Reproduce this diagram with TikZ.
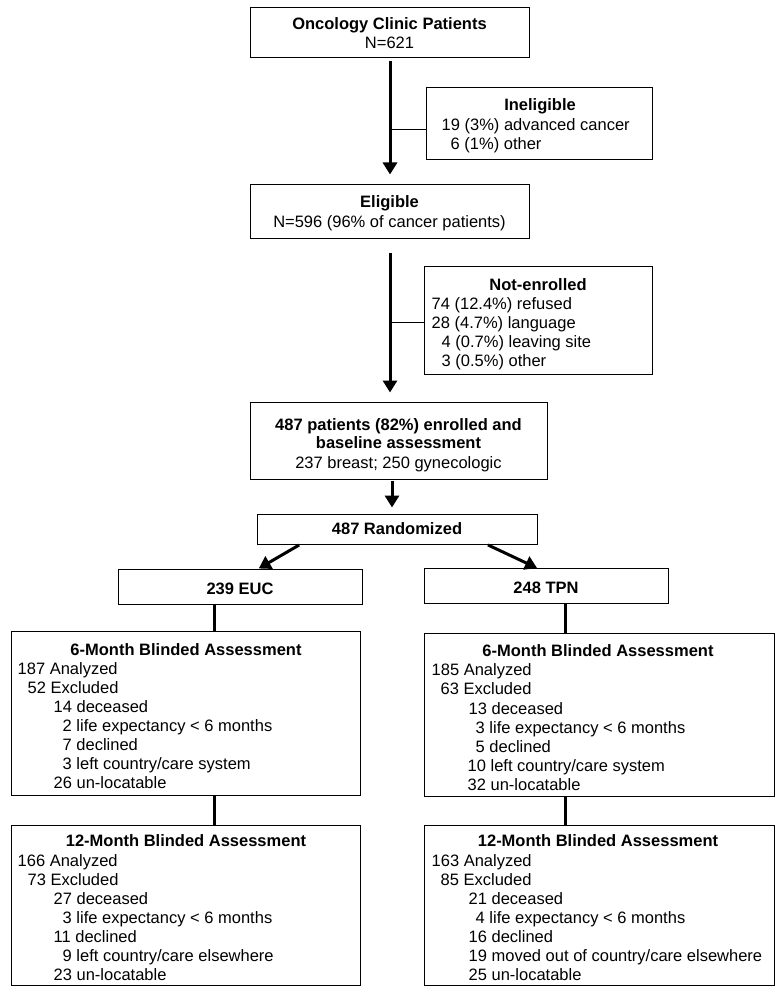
\documentclass[tikz,border=0pt]{standalone}
\usepackage{fontspec}
\setmainfont{Liberation Sans}
\usetikzlibrary{arrows.meta,calc}
\newcommand\fs{\fontsize{16.5}{19}\selectfont}
\begin{document}
\begin{tikzpicture}[x=1pt,y=-1pt,
  box/.style={draw=black,line width=1pt,rectangle,inner sep=0pt,outer sep=0pt,fill=white},
  txt/.style={inner sep=0pt,anchor=base west,font=\fs},
  ctx/.style={inner sep=0pt,anchor=base,font=\fs},
  ttl/.style={inner sep=0pt,anchor=base,font=\fs\bfseries},
  thick line/.style={line width=3pt},
  arr/.style={line width=3pt,-{Triangle[length=12pt,width=14pt]}},
  thin line/.style={line width=1pt}]
\useasboundingbox[fill=white] (0,0) rectangle (783,992);

% boxes
\node[box,minimum width=279pt,minimum height=50pt] (onc) at (390,32.5) {};
\node[box,minimum width=226pt,minimum height=72pt] (inel) at (539.5,123.5) {};
\node[box,minimum width=279pt,minimum height=54pt] (elig) at (390,211.5) {};
\node[box,minimum width=228pt,minimum height=108pt] (noten) at (538.5,320.5) {};
\node[box,minimum width=297pt,minimum height=77pt] (enr) at (399,441) {};
\node[box,minimum width=280pt,minimum height=30pt] (rand) at (397.5,529.5) {};
\node[box,minimum width=244pt,minimum height=35pt] (euc) at (240.5,587) {};
\node[box,minimum width=244pt,minimum height=35pt] (tpn) at (546.5,586) {};
\node[box,minimum width=349pt,minimum height=164pt] (m6l) at (186,713.5) {};
\node[box,minimum width=350pt,minimum height=163pt] (m6r) at (599.5,715) {};
\node[box,minimum width=349pt,minimum height=160pt] (m12l) at (186,905.5) {};
\node[box,minimum width=350pt,minimum height=160pt] (m12r) at (599.5,905.5) {};

% centered texts
\node[ttl] (onc-t) at (389.5,30) {Oncology Clinic Patients};
\node[ctx] (onc-n) at (389.5,49) {N=621};
\node[ttl] (elig-t) at (389.5,208) {Eligible};
\node[ctx] (elig-n) at (389.5,228) {N=596 (96\% of cancer patients)};
\node[ttl] (enr-t1) at (398.5,430) {487 patients (82\%) enrolled and};
\node[ttl] (enr-t2) at (398.5,448.5) {baseline assessment};
\node[ctx] (enr-n) at (398.5,468) {237 breast; 250 gynecologic};
\node[ttl] (rand-t) at (397,534) {487 Randomized};
\node[ttl] (euc-t) at (240,594) {239 EUC};
\node[ttl] (tpn-t) at (546,593) {248 TPN};
\node[ttl] (inel-t) at (540,111) {Ineligible};
\node[ttl] (noten-t) at (538,290) {Not-enrolled};
\node[ttl] (m6l-t) at (186,655) {6-Month Blinded Assessment};
\node[ttl] (m6r-t) at (598,656) {6-Month Blinded Assessment};
\node[ttl] (m12l-t) at (186,846) {12-Month Blinded Assessment};
\node[ttl] (m12r-t) at (598,846) {12-Month Blinded Assessment};

% left-aligned lines
\foreach \dx/\dy/\t [count=\i] in {15/43/{19 (3\%) advanced cancer}, 24/62/{6 (1\%) other}}
  \node[txt] (inel-\i) at ($(inel.north west)+(\dx,\dy)$) {\t};
\foreach \dx/\dy/\t [count=\i] in {7/43/{74 (12.4\%) refused}, 7/62/{28 (4.7\%) language}, 17/81/{4 (0.7\%) leaving site}, 17/100/{3 (0.5\%) other}}
  \node[txt] (noten-\i) at ($(noten.north west)+(\dx,\dy)$) {\t};
\foreach \dx/\dy/\t [count=\i] in {6/43/{187 Analyzed}, 16/62/{52 Excluded}, 42/81/{14 deceased}, 51/100/{2 life expectancy < 6 months}, 51/119/{7 declined}, 51/138/{3 left country/care system}, 42/157/{26 un-locatable}}
  \node[txt] (m6l-\i) at ($(m6l.north west)+(\dx,\dy)$) {\t};
\foreach \dx/\dy/\t [count=\i] in {7/42/{185 Analyzed}, 16/61/{63 Excluded}, 44/80.5/{13 deceased}, 51/99.5/{3 life expectancy < 6 months}, 51/119/{5 declined}, 43/138/{10 left country/care system}, 43/157/{32 un-locatable}}
  \node[txt] (m6r-\i) at ($(m6r.north west)+(\dx,\dy)$) {\t};
\foreach \dx/\dy/\t [count=\i] in {6/41/{166 Analyzed}, 16/60/{73 Excluded}, 42/79/{27 deceased}, 51/98/{3 life expectancy < 6 months}, 42/117/{11 declined}, 51/136/{9 left country/care elsewhere}, 42/155/{23 un-locatable}}
  \node[txt] (m12l-\i) at ($(m12l.north west)+(\dx,\dy)$) {\t};
\foreach \dx/\dy/\t [count=\i] in {7/41/{163 Analyzed}, 16/60/{85 Excluded}, 44/79/{21 deceased}, 51/98/{4 life expectancy < 6 months}, 44/117/{16 declined}, 44/136/{19 moved out of country/care elsewhere}, 44/155/{25 un-locatable}}
  \node[txt] (m12r-\i) at ($(m12r.north west)+(\dx,\dy)$) {\t};

% connectors
\coordinate (j1) at (390,129.5);
\coordinate (j2) at (390,322.5);
\draw[arr,shorten <=4pt,shorten >=10pt] (390,0 |- onc.south) -- (390,0 |- elig.north);
\draw[thin line] (j1) -- (j1 -| inel.west);
\draw[arr,shorten <=14pt,shorten >=10pt] (390,0 |- elig.south) -- (390,0 |- enr.north);
\draw[thin line] (j2) -- (j2 -| noten.west);
\draw[arr,shorten <=1pt,shorten >=7pt] (392,0 |- enr.south) -- (392,0 |- rand.north);
\draw[arr,shorten <=1pt,shorten >=2pt] (300,0 |- rand.south) -- (257,0 |- euc.north);
\draw[arr,shorten <=1pt,shorten >=1pt] (487,0 |- rand.south) -- (538,0 |- tpn.north);
\draw[thick line] (214,0 |- euc.south) -- (214,0 |- m6l.north);
\draw[thick line] (565,0 |- tpn.south) -- (565,0 |- m6r.north);
\draw[thick line] (214,0 |- m6l.south) -- (214,0 |- m12l.north);
\draw[thick line] (565,0 |- m6r.south) -- (565,0 |- m12r.north);
\end{tikzpicture}
\end{document}
